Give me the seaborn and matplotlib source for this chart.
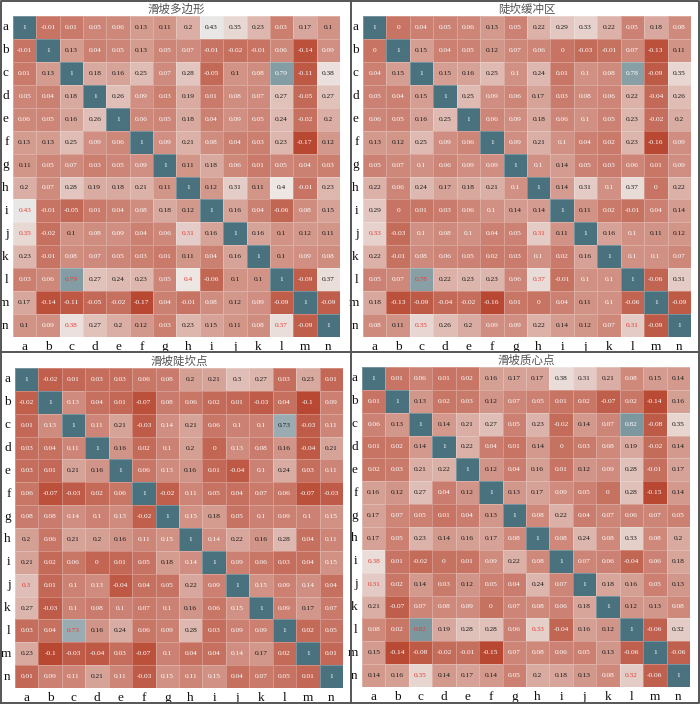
import numpy as np
import pandas as pd
import matplotlib
matplotlib.use("Agg")
import matplotlib.pyplot as plt
import seaborn as sns
from matplotlib.lines import Line2D

labels = list("abcdefghijklmn")
titles = ["滑坡多边形", "陡坎缓冲区", "滑坡陡坎点", "滑坡质心点"]

polygon = [
    [1, -0.01, 0.01, 0.05, 0.06, 0.13, 0.11, 0.2, 0.43, 0.35, 0.23, 0.03, 0.17, 0.1],
    [-0.01, 1, 0.13, 0.04, 0.05, 0.13, 0.05, 0.07, -0.01, -0.02, -0.01, 0.06, -0.14, 0.09],
    [0.01, 0.13, 1, 0.18, 0.16, 0.25, 0.07, 0.28, -0.05, 0.1, 0.08, 0.79, -0.11, 0.38],
    [0.05, 0.04, 0.18, 1, 0.26, 0.09, 0.03, 0.19, 0.01, 0.08, 0.07, 0.27, -0.05, 0.27],
    [0.06, 0.05, 0.16, 0.26, 1, 0.06, 0.05, 0.18, 0.04, 0.09, 0.05, 0.24, -0.02, 0.2],
    [0.13, 0.13, 0.25, 0.09, 0.06, 1, 0.09, 0.21, 0.08, 0.04, 0.03, 0.23, -0.17, 0.12],
    [0.11, 0.05, 0.07, 0.03, 0.05, 0.09, 1, 0.11, 0.18, 0.06, 0.01, 0.05, 0.04, 0.03],
    [0.2, 0.07, 0.28, 0.19, 0.18, 0.21, 0.11, 1, 0.12, 0.31, 0.11, 0.4, -0.01, 0.23],
    [0.43, -0.01, -0.05, 0.01, 0.04, 0.08, 0.18, 0.12, 1, 0.16, 0.04, -0.06, 0.08, 0.15],
    [0.35, -0.02, 0.1, 0.08, 0.09, 0.04, 0.06, 0.31, 0.16, 1, 0.16, 0.1, 0.12, 0.11],
    [0.23, -0.01, 0.08, 0.07, 0.05, 0.03, 0.01, 0.11, 0.04, 0.16, 1, 0.1, 0.09, 0.08],
    [0.03, 0.06, 0.79, 0.27, 0.24, 0.23, 0.05, 0.4, -0.06, 0.1, 0.1, 1, -0.09, 0.37],
    [0.17, -0.14, -0.11, -0.05, -0.02, -0.17, 0.04, -0.01, 0.08, 0.12, 0.09, -0.09, 1, -0.09],
    [0.1, 0.09, 0.38, 0.27, 0.2, 0.12, 0.03, 0.23, 0.15, 0.11, 0.08, 0.37, -0.09, 1],
]

buffer_zone = [
    [1, 0, 0.04, 0.05, 0.06, 0.13, 0.05, 0.22, 0.29, 0.33, 0.22, 0.05, 0.18, 0.08],
    [0, 1, 0.15, 0.04, 0.05, 0.12, 0.07, 0.06, 0, -0.03, -0.01, 0.07, -0.13, 0.11],
    [0.04, 0.15, 1, 0.15, 0.16, 0.25, 0.1, 0.24, 0.01, 0.1, 0.08, 0.78, -0.09, 0.35],
    [0.05, 0.04, 0.15, 1, 0.25, 0.09, 0.06, 0.17, 0.03, 0.08, 0.06, 0.22, -0.04, 0.26],
    [0.06, 0.05, 0.16, 0.25, 1, 0.06, 0.09, 0.18, 0.06, 0.1, 0.05, 0.23, -0.02, 0.2],
    [0.13, 0.12, 0.25, 0.09, 0.06, 1, 0.09, 0.21, 0.1, 0.04, 0.02, 0.23, -0.16, 0.09],
    [0.05, 0.07, 0.1, 0.06, 0.09, 0.09, 1, 0.1, 0.14, 0.05, 0.03, 0.06, 0.01, 0.09],
    [0.22, 0.06, 0.24, 0.17, 0.18, 0.21, 0.1, 1, 0.14, 0.31, 0.1, 0.37, 0, 0.22],
    [0.29, 0, 0.01, 0.03, 0.06, 0.1, 0.14, 0.14, 1, 0.11, 0.02, -0.01, 0.04, 0.14],
    [0.33, -0.03, 0.1, 0.08, 0.1, 0.04, 0.05, 0.31, 0.11, 1, 0.16, 0.1, 0.11, 0.12],
    [0.22, -0.01, 0.08, 0.06, 0.05, 0.02, 0.03, 0.1, 0.02, 0.16, 1, 0.1, 0.1, 0.07],
    [0.05, 0.07, 0.78, 0.22, 0.23, 0.23, 0.06, 0.37, -0.01, 0.1, 0.1, 1, -0.06, 0.31],
    [0.18, -0.13, -0.09, -0.04, -0.02, -0.16, 0.01, 0, 0.04, 0.11, 0.1, -0.06, 1, -0.09],
    [0.08, 0.11, 0.35, 0.26, 0.2, 0.09, 0.09, 0.22, 0.14, 0.12, 0.07, 0.31, -0.09, 1],
]

scarp_point = [
    [1, -0.02, 0.01, 0.03, 0.03, 0.06, 0.08, 0.2, 0.21, 0.3, 0.27, 0.03, 0.23, 0.01],
    [-0.02, 1, 0.13, 0.04, 0.01, -0.07, 0.08, 0.06, 0.02, 0.01, -0.03, 0.04, -0.1, 0.09],
    [0.01, 0.13, 1, 0.11, 0.21, -0.03, 0.14, 0.21, 0.06, 0.1, 0.1, 0.73, -0.03, 0.11],
    [0.03, 0.04, 0.11, 1, 0.16, 0.02, 0.1, 0.2, 0, 0.13, 0.08, 0.16, -0.04, 0.21],
    [0.03, 0.01, 0.21, 0.16, 1, 0.06, 0.13, 0.16, 0.01, -0.04, 0.1, 0.24, 0.03, 0.11],
    [0.06, -0.07, -0.03, 0.02, 0.06, 1, -0.02, 0.11, 0.05, 0.04, 0.07, 0.06, -0.07, -0.03],
    [0.08, 0.08, 0.14, 0.1, 0.13, -0.02, 1, 0.15, 0.18, 0.05, 0.1, 0.09, 0.1, 0.15],
    [0.2, 0.06, 0.21, 0.2, 0.16, 0.11, 0.15, 1, 0.14, 0.22, 0.16, 0.28, 0.04, 0.11],
    [0.21, 0.02, 0.06, 0, 0.01, 0.05, 0.18, 0.14, 1, 0.09, 0.06, 0.03, 0.04, 0.15],
    [0.3, 0.01, 0.1, 0.13, -0.04, 0.04, 0.05, 0.22, 0.09, 1, 0.15, 0.09, 0.14, 0.04],
    [0.27, -0.03, 0.1, 0.08, 0.1, 0.07, 0.1, 0.16, 0.06, 0.15, 1, 0.09, 0.17, 0.07],
    [0.03, 0.04, 0.73, 0.16, 0.24, 0.06, 0.09, 0.28, 0.03, 0.09, 0.09, 1, 0.02, 0.05],
    [0.23, -0.1, -0.03, -0.04, 0.03, -0.07, 0.1, 0.04, 0.04, 0.14, 0.17, 0.02, 1, 0.01],
    [0.01, 0.09, 0.11, 0.21, 0.11, -0.03, 0.15, 0.11, 0.15, 0.04, 0.07, 0.05, 0.01, 1],
]

centroid = [
    [1, 0.01, 0.06, 0.01, 0.02, 0.16, 0.17, 0.17, 0.38, 0.31, 0.21, 0.08, 0.15, 0.14],
    [0.01, 1, 0.13, 0.02, 0.03, 0.12, 0.07, 0.05, 0.01, 0.02, -0.07, 0.02, -0.14, 0.16],
    [0.06, 0.13, 1, 0.14, 0.21, 0.27, 0.05, 0.23, -0.02, 0.14, 0.07, 0.82, -0.08, 0.35],
    [0.01, 0.02, 0.14, 1, 0.22, 0.04, 0.01, 0.14, 0, 0.03, 0.08, 0.19, -0.02, 0.14],
    [0.02, 0.03, 0.21, 0.22, 1, 0.12, 0.04, 0.16, 0.01, 0.12, 0.09, 0.28, -0.01, 0.17],
    [0.16, 0.12, 0.27, 0.04, 0.12, 1, 0.13, 0.17, 0.09, 0.05, 0, 0.28, -0.15, 0.14],
    [0.17, 0.07, 0.05, 0.01, 0.04, 0.13, 1, 0.08, 0.22, 0.04, 0.07, 0.06, 0.07, 0.05],
    [0.17, 0.05, 0.23, 0.14, 0.16, 0.17, 0.08, 1, 0.08, 0.24, 0.08, 0.33, 0.08, 0.2],
    [0.38, 0.01, -0.02, 0, 0.01, 0.09, 0.22, 0.08, 1, 0.07, 0.06, -0.04, 0.06, 0.18],
    [0.31, 0.02, 0.14, 0.03, 0.12, 0.05, 0.04, 0.24, 0.07, 1, 0.18, 0.16, 0.05, 0.13],
    [0.21, -0.07, 0.07, 0.08, 0.09, 0, 0.07, 0.08, 0.06, 0.18, 1, 0.12, 0.13, 0.08],
    [0.08, 0.02, 0.82, 0.19, 0.28, 0.28, 0.06, 0.33, -0.04, 0.16, 0.12, 1, -0.06, 0.32],
    [0.15, -0.14, -0.08, -0.02, -0.01, -0.15, 0.07, 0.08, 0.06, 0.05, 0.13, -0.06, 1, -0.06],
    [0.14, 0.16, 0.35, 0.14, 0.17, 0.14, 0.05, 0.2, 0.18, 0.13, 0.08, 0.32, -0.06, 1],
]

matrices = [polygon, buffer_zone, scarp_point, centroid]

W, H = 700, 704
# axes boxes in pixels: left, top, width, height
boxes = [(13, 16, 327, 321), (363, 16, 328, 321), (15, 368, 328, 320), (362, 367, 328, 320)]

cmap = sns.blend_palette(["#b84832", "#eeeae8", "#4a717e"], as_cmap=True)

fig = plt.figure(figsize=(W / 100, H / 100), dpi=100)
fig.patch.set_facecolor("white")

for mat, title, (l, t, w, h) in zip(matrices, titles, boxes):
    df = pd.DataFrame(mat, index=labels, columns=labels)
    ax = fig.add_axes([l / W, 1 - (t + h) / H, w / W, h / H])
    sns.heatmap(df, ax=ax, cmap=cmap, annot=True, fmt="g", cbar=False,
                linewidths=0.4, linecolor=(1, 1, 1, 0.25),
                annot_kws=dict(fontsize=5.3, family="Liberation Serif"))
    vals = df.values
    vmin, vmax = vals.min(), vals.max()
    for txt in ax.texts:
        x, y = txt.get_position()
        j, i = int(x), int(y)
        v = vals[i, j]
        nv = (v - vmin) / (vmax - vmin)
        if i > j and v >= 0.3:
            c = "#e8392e"
        elif 0.229 <= nv < 0.78:
            c = "#1a1a1a"
        else:
            c = "white"
        txt.set_color(c)
    ax.set_title(title, fontsize=8.3, color="#555555",
                 family=["Noto Sans CJK SC", "DejaVu Sans"], pad=2)
    ax.tick_params(length=0, labelsize=9.5, pad=3)
    for lab in ax.get_xticklabels() + ax.get_yticklabels():
        lab.set_family("Liberation Serif")
        lab.set_color("#111111")
    ax.set_xticklabels(ax.get_xticklabels(), rotation=0)
    ax.set_yticklabels(ax.get_yticklabels(), rotation=0)
    ax.set_xlabel("")
    ax.set_ylabel("")

lc = "#555555"
lw = 1.4
fig.add_artist(Line2D([0.001, 0.999, 0.999, 0.001, 0.001], [0.001, 0.001, 0.999, 0.999, 0.001],
                      transform=fig.transFigure, color=lc, lw=lw))
fig.add_artist(Line2D([351 / W, 351 / W], [0, 1], transform=fig.transFigure, color=lc, lw=lw))
fig.add_artist(Line2D([0, 1], [1 - 352 / H, 1 - 352 / H], transform=fig.transFigure, color=lc, lw=lw))

fig.savefig("out.png", dpi=100)
